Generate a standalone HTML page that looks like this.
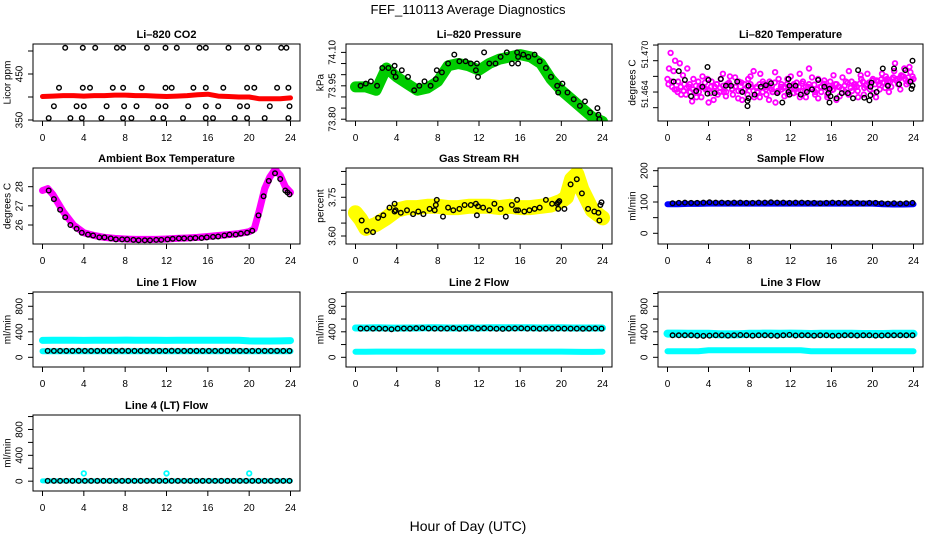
<!DOCTYPE html>
<html><head><meta charset="utf-8"><title>FEF_110113 Average Diagnostics</title>
<style>
html,body{margin:0;padding:0;background:#fff;}
svg{display:block;font-family:"Liberation Sans",Arial,sans-serif;}
</style></head>
<body>
<svg id="chart" width="936" height="540" viewBox="0 0 936 540" xmlns="http://www.w3.org/2000/svg">
<rect x="0" y="0" width="936" height="540" fill="#fff"/>
<text x="468" y="14" text-anchor="middle" font-size="13">FEF_110113  Average Diagnostics</text>
<text x="468" y="531" text-anchor="middle" font-size="14">Hour of Day (UTC)</text>
</svg>
<script>
// ---------- data ----------
const xTicks = [0,4,8,12,16,20,24];
const bandHours = [0,1,2,3,4,5,6,7,8,9,10,11,12,13,14,15,16,17,18,19,20,21,22,23,24];

// Li-820 CO2
const co2Band = [401,402,403,403,402,403,403,404,404,403,403,402,401,402,403,405,406,402,401,400,400,396,396,396,398];
const co2Hours = [2.2,3.9,5.1,7.2,7.8,10.1,11.9,13.0,15.2,15.8,18.0,19.8,20.9,23.1,23.6,
 1.6,3.9,4.6,6.8,7.8,9.6,11.9,12.5,14.6,15.8,17.5,19.8,20.5,22.7,23.8,
 1.1,3.3,4.0,6.2,7.9,9.1,11.2,11.9,14.1,15.8,17.0,19.1,19.8,22.0,23.9,
 0.6,2.7,3.8,5.7,7.8,8.6,10.7,11.7,13.6,15.8,16.5,18.6,19.8,21.5,23.8];
const co2Vals = [507,507,507,507,507,507,507,507,507,507,507,507,507,507,507,
 420,420,420,420,420,420,420,420,420,420,420,420,420,420,420,
 380,380,380,380,380,380,380,380,380,380,380,380,380,380,380,
 354,354,354,354,354,354,354,354,354,354,354,354,354,354,354];

// Li-820 Pressure
const presBand = [73.945,73.945,73.93,74.03,73.99,73.96,73.93,73.94,73.97,74.04,74.05,74.04,74.02,74.05,74.07,74.08,74.09,74.08,74.05,73.98,73.93,73.89,73.85,73.81,73.79];
const presHours = [0.5,1.0,1.5,2.1,2.6,3.2,3.7,3.8,3.9,4.5,5.1,5.7,6.2,6.7,7.3,7.8,7.9,8.4,9.0,9.6,10.1,10.7,11.2,11.7,11.8,11.9,12.5,13.0,13.6,14.1,14.7,15.2,15.7,15.8,15.8,16.3,16.8,17.4,17.9,18.5,19.0,19.6,19.7,20.1,20.6,21.2,21.8,22.3,22.8,23.5,23.6,23.7];
const presVals = [73.95,73.96,73.97,73.95,74.03,74.03,74.01,74.04,73.99,74.02,73.99,73.93,73.95,73.97,73.95,73.98,74.02,74.01,74.05,74.09,74.06,74.06,74.05,74.02,74.05,73.99,74.10,74.05,74.05,74.08,74.10,74.05,74.10,74.08,74.05,74.09,74.08,74.09,74.06,74.03,73.99,73.95,73.92,73.96,73.92,73.89,73.86,73.88,73.83,73.85,73.82,73.80];

// Li-820 Temperature (thousandths above 51.460)
const tempMagA = [6.5,11.5,8.0,4.5,9.5,7.2,3.5,5.0,2.2,4.0,6.0,3.0,4.8,6.5,3.8,2.5,5.5,4.0,7.5,3.2,5.8,4.5,6.8,2.8,4.2,5.5,3.5,7.0,8.0,5.0,3.0,6.0,4.5,2.5,5.2,7.8,4.0,5.5,3.2,6.5,4.8,3.8,5.8,7.5,4.2,3.0,5.5,6.8,4.0,2.8,5.0,6.2,3.5,4.8,7.2,5.5,3.2,4.5,6.0,8.0,4.2,5.5,3.0,6.5,4.8,7.5,5.2,3.8,6.2,4.5,5.8,7.0,4.0,6.5,9.5,5.5,7.2,8.5,6.0,7.8,6.5];
const tempMagB = [8.5,5.0,10.0,6.0,3.5,5.5,8.5,4.0,6.5,3.0,5.0,7.0,4.5,2.0,6.0,5.0,3.5,6.5,4.0,5.5,7.0,3.5,5.0,6.0,2.5,4.5,6.5,5.0,3.0,4.0,7.5,5.5,3.5,6.0,4.0,2.0,6.5,4.5,5.0,3.5,7.0,5.5,4.0,3.0,6.0,5.0,8.5,4.5,3.5,6.5,4.0,5.5,3.0,6.0,4.5,2.5,5.0,6.8,4.0,3.5,6.0,5.0,4.2,7.2,3.5,5.5,4.5,6.5,3.0,5.5,7.5,4.8,6.0,5.0,8.0,6.5,4.5,7.0,5.5,8.8,7.0];
const tempMagC = [5.5,6.0,4.5,4.0,5.0,4.2,4.8,5.5,4.5,5.2,4.0,5.0,5.8,4.5,5.0,4.2,5.5,4.8,5.2,4.0,5.5,4.6,5.0,4.2,5.8,4.5,5.0,5.5,4.2,4.8,5.5,4.0,5.0,5.2,4.5,5.8,4.2,5.0,4.8,5.5,4.4,5.2,4.6,5.0,5.6,4.2,5.0,4.8,5.4,4.5,5.0,5.6,4.8,5.2,4.4,5.5,5.0,4.6,5.2,5.8,4.8,5.4,5.0,5.6,6.0,5.2,5.8,6.2,5.5,6.0,6.4,5.8,6.5,6.0,6.8,6.2,6.6,7.0,6.4,6.8,6.2];
const tempHours = [0.6,1.1,1.7,2.3,2.8,3.4,3.9,3.9,4.0,4.6,5.2,5.7,6.2,6.8,7.3,7.8,7.8,7.9,7.9,8.5,9.1,9.6,10.1,10.7,11.2,11.8,11.8,11.9,11.9,12.5,13.0,13.6,14.1,14.7,15.3,15.7,15.8,15.8,15.9,16.5,17.0,17.6,18.1,18.6,19.2,19.7,19.8,19.8,19.9,20.4,21.0,21.5,22.1,22.6,23.2,23.7,23.8,23.9,23.9];
const tempVals = [6.0,8.0,6.3,3.2,4.2,5.0,3.7,8.8,6.3,3.8,6.5,5.2,5.2,6.0,4.0,1.3,2.3,2.8,5.2,3.5,5.0,5.3,5.7,3.8,2.0,4.0,6.5,5.2,3.5,5.2,3.5,4.0,4.5,6.3,5.0,3.8,4.6,2.0,3.2,2.8,3.8,3.8,2.8,8.2,2.9,2.4,3.4,5.0,5.8,4.0,8.5,5.2,8.5,5.5,8.2,6.0,4.6,10.0,5.2];

// Ambient Box Temperature
const ambHours = [0,0.5,1,2,3,4,5,6,7,8,9,10,11,12,13,14,15,16,17,18,19,20,20.5,21,21.5,22,22.5,23,23.5,24];
const ambBand = [27.8,27.9,27.6,26.7,26.0,25.6,25.45,25.35,25.3,25.27,25.25,25.25,25.25,25.27,25.3,25.32,25.35,25.4,25.45,25.5,25.55,25.65,25.8,26.8,27.9,28.5,28.9,28.6,28.0,27.7];
const ambPtHours = [0.6,1.1,1.7,2.2,2.7,3.3,3.8,4.4,4.9,5.5,6.0,6.6,7.1,7.7,8.2,8.8,9.3,9.9,10.4,11.0,11.5,12.1,12.6,13.2,13.7,14.3,14.8,15.4,15.9,16.5,17.0,17.6,18.1,18.7,19.2,19.8,20.3,20.9,21.4,21.9,22.5,23.0,23.5,23.7,23.9];
const ambPtVals = [27.8,27.35,26.8,26.4,26.0,25.8,25.6,25.5,25.45,25.35,25.35,25.3,25.25,25.25,25.25,25.22,25.2,25.2,25.2,25.22,25.22,25.25,25.28,25.3,25.3,25.3,25.32,25.32,25.35,25.38,25.4,25.45,25.5,25.5,25.55,25.6,25.7,26.5,27.5,28.3,28.7,28.4,27.8,27.7,27.6];

// Gas Stream RH
const rhHours = [0,0.5,1,2,3,4,5,6,7,8,9,10,11,12,13,14,15,16,17,18,19,20,20.5,21,21.5,22,23,24];
const rhBand = [3.69,3.665,3.63,3.645,3.67,3.70,3.71,3.71,3.715,3.715,3.71,3.71,3.715,3.715,3.715,3.71,3.715,3.71,3.71,3.715,3.72,3.735,3.75,3.82,3.84,3.78,3.70,3.67];
const rhPtHours = [0.6,1.1,1.7,2.2,2.7,3.3,3.8,3.8,3.9,4.4,5.0,5.6,6.1,6.6,7.2,7.7,7.8,7.9,8.5,9.0,9.5,10.1,10.6,11.2,11.7,11.8,11.9,12.4,13.0,13.5,14.1,14.6,15.2,15.6,15.7,15.8,16.4,16.9,17.4,17.9,18.5,19.1,19.6,19.7,19.7,19.8,20.3,20.9,21.5,22.0,22.6,23.2,23.6,23.7,23.8,23.9];
const rhPtVals = [3.66,3.62,3.615,3.67,3.68,3.71,3.695,3.725,3.70,3.69,3.70,3.685,3.695,3.685,3.705,3.70,3.72,3.74,3.675,3.71,3.70,3.705,3.72,3.72,3.725,3.68,3.715,3.71,3.70,3.725,3.705,3.675,3.72,3.70,3.74,3.70,3.695,3.70,3.705,3.71,3.74,3.725,3.725,3.73,3.705,3.735,3.705,3.80,3.82,3.765,3.705,3.695,3.69,3.66,3.72,3.73];

// Flows
const sampleBand = [93,93,94,94,95,95,95,95,95,95,95,95,95,95,95,95,95,95,95,95,95,93,92,92,93];
const samplePts = [96,97,98,97,97,98,99,98,98,97,98,98,97,97,98,98,99,98,98,97,98,98,97,97,96,97,98,97,98,98,97,96,97,97,96,95,96,95,96,97];
const l1Upper = [265,268,268,268,265,268,268,268,270,268,268,268,265,268,268,268,268,268,268,268,258,255,255,258,262];
const l1Lower = [95,95,95,95,95,95,95,95,95,95,95,95,95,95,95,95,95,95,95,95,95,95,95,95,95];
const l1Pts = [100,100,100,100,100,102,100,100,100,100,100,100,102,100,100,100,100,100,100,100,102,100,100,100,100,100,100,100,100,100,102,100,100,100,100,100,100,100,100,100];
const l2Upper = [460,460,462,460,458,460,460,462,465,460,460,462,460,462,465,465,465,462,460,462,462,460,460,460,460];
const l2Lower = [88,88,90,90,90,90,90,90,90,90,90,90,90,90,90,90,90,90,90,90,90,88,85,85,88];
const l2Pts = [450,452,450,450,448,440,450,452,450,455,458,452,450,450,452,455,448,452,458,450,455,452,448,445,450,452,455,450,452,448,450,450,452,450,450,450,448,450,452,450];
const l3Upper = [372,372,370,370,368,362,360,362,368,370,372,370,372,368,365,368,370,370,368,365,365,365,368,368,368];
const l3Lower = [95,95,95,95,110,112,112,112,112,112,112,112,112,110,95,95,95,95,95,95,95,95,95,95,95];
const l3Pts = [345,345,345,345,340,335,340,345,345,340,345,350,345,340,345,345,342,338,345,352,342,345,345,340,345,345,338,340,345,345,342,345,345,340,342,345,345,345,345,345];
const l4Band = [5,5,5,5,5,5,5,5,5,5,5,5,5,5,5,5,5,5,5,5,5,5,5,5,5];
const l4SpikeHours = [4,12,20];
const l4SpikeVals = [120,120,120];
const l4Pts = [5,5,5,5,5,5,5,5,5,5,5,5,5,5,5,5,5,5,5,5,5,5,5,5,5,5,5,5,5,5,5,5,5,5,5,5,5,5,5,5];

// ---------- drawing ----------
const NS = 'http://www.w3.org/2000/svg';
const svg = document.getElementById('chart');
const cols = [[33,300],[346,612],[658,923]];
const rows = [[44,121],[168,244],[292,367],[415,491]];

function el(tag, parent){ const e=document.createElementNS(NS,tag); parent.appendChild(e); return e; }

function makePanel(cfg){
  const [L,R]=cols[cfg.col], [T,B]=rows[cfg.row];
  const g=el('g',svg);
  
  
  const x0=L+9.5, x1=R-9.5;
  const sx=h=>x0+(h/24)*(x1-x0);
  const sy=v=>B-(v-cfg.ymin)/(cfg.ymax-cfg.ymin)*(B-T);
  const clip=el('clipPath',g); clip.setAttribute('id','clip-'+cfg.name);
  const cr=el('rect',clip); cr.setAttribute('x',L); cr.setAttribute('y',T); cr.setAttribute('width',R-L); cr.setAttribute('height',B-T);
  const plot=el('g',g); plot.setAttribute('clip-path','url(#clip-'+cfg.name+')');
  
  
  const t=el('text',g); t.setAttribute('x',(L+R)/2); t.setAttribute('y',T-6); t.setAttribute('text-anchor','middle'); t.setAttribute('font-size','11'); t.setAttribute('font-weight','bold'); t.textContent=cfg.title;
  
  
  xTicks.forEach(h=>{
    const ln=el('line',g); ln.setAttribute('x1',sx(h)); ln.setAttribute('x2',sx(h)); ln.setAttribute('y1',B); ln.setAttribute('y2',B+5); ln.setAttribute('stroke','#000');
    
    
    const tx=el('text',g); tx.setAttribute('x',sx(h)); tx.setAttribute('y',B+20); tx.setAttribute('text-anchor','middle'); tx.setAttribute('font-size','10'); tx.textContent=h;
    
    
  });
  cfg.yTicks.forEach(v=>{
    const y=sy(v);
    const ln=el('line',g); ln.setAttribute('x1',L-5); ln.setAttribute('x2',L); ln.setAttribute('y1',y); ln.setAttribute('y2',y); ln.setAttribute('stroke','#000');
    
    
  });
  cfg.yLabels.forEach((lab,i)=>{
    const y=sy(cfg.yLabelVals[i]), x=L-13;
    const tx=el('text',g); tx.setAttribute('x',x); tx.setAttribute('y',y); tx.setAttribute('text-anchor','middle'); tx.setAttribute('dominant-baseline','central'); tx.setAttribute('font-size',cfg.yfs||10); tx.setAttribute('transform','rotate(-90 '+x+' '+y+')'); tx.textContent=lab;
    
    
  });
  const ax=L-25, ay=(T+B)/2;
  const yt=el('text',g); yt.setAttribute('x',ax); yt.setAttribute('y',ay); yt.setAttribute('text-anchor','middle'); yt.setAttribute('dominant-baseline','central'); yt.setAttribute('font-size','10'); yt.setAttribute('transform','rotate(-90 '+ax+' '+ay+')'); yt.textContent=cfg.ylab;
  
  
  (cfg.bands||[]).forEach(b=>{
    const p=el('polyline',plot);
    p.setAttribute('points', b.vals.map((v,i)=>sx(b.hours[i]).toFixed(1)+','+sy(v).toFixed(1)).join(' '));
    p.setAttribute('fill','none'); p.setAttribute('stroke',b.color); p.setAttribute('stroke-width',b.w); p.setAttribute('stroke-linejoin','round'); p.setAttribute('stroke-linecap','round');
    
    
  });
  (cfg.points||[]).forEach(s=>{
    const n=s.vals.length;
    s.vals.forEach((v,i)=>{
      const h = s.hours ? s.hours[i] : s.h0 + i*(s.h1-s.h0)/(n-1);
      const c=el('circle',plot); c.setAttribute('cx',sx(h).toFixed(1)); c.setAttribute('cy',sy(v).toFixed(1)); c.setAttribute('r',s.r||2.3);
      c.setAttribute('fill','none'); c.setAttribute('stroke',s.color); c.setAttribute('stroke-width',s.sw||1.4);
      
      
    });
  });
  const box=el('rect',g); box.setAttribute('x',L); box.setAttribute('y',T); box.setAttribute('width',R-L); box.setAttribute('height',B-T); box.setAttribute('fill','none'); box.setAttribute('stroke','#000');
  
  
}

const tempA = tempMagA.map(v=>51.460+v/1000);
const tempB = tempMagB.map(v=>51.460+v/1000);
const tempC = tempMagC.map(v=>51.460+v/1000);
const tempP = tempVals.map(v=>51.460+v/1000);
const flowTicks=[0,200,400,600,800,1000], flowLab=['0','400','800'], flowLabV=[0,400,800];

makePanel({name:'co2-panel',col:0,row:0,title:'Li\u2013820 CO2',ylab:'Licor ppm',ymin:347.8,ymax:515.2,yTicks:[350,400,450,500],yLabels:['350','450'],yLabelVals:[350,450],
  bands:[{name:'co2-band',hours:bandHours,vals:co2Band,color:'#ff0000',w:5}],
  points:[{name:'co2-point',hours:co2Hours,vals:co2Vals,color:'#000'}]});
makePanel({name:'pressure-panel',col:1,row:0,title:'Li\u2013820 Pressure',ylab:'kPa',ymin:73.792,ymax:74.1377,yTicks:[73.80,73.85,73.90,73.95,74.00,74.05,74.10],yLabels:['73.80','73.95','74.10'],yLabelVals:[73.80,73.95,74.10],
  bands:[{name:'pressure-band',hours:bandHours,vals:presBand,color:'#00cd00',w:11}],
  points:[{name:'pressure-point',hours:presHours,vals:presVals,color:'#000'}]});
makePanel({name:'temperature-panel',col:2,row:0,title:'Li\u2013820 Temperature',ylab:'degrees C',yfs:9,ymin:51.45845,ymax:51.4732,yTicks:[51.461,51.464,51.467,51.470,51.473],yLabels:['51.464','51.470'],yLabelVals:[51.4636,51.4712],
  points:[{name:'temperature-raw-point',h0:0.1,h1:23.8,vals:tempC,color:'#ff00ff',sw:1.8},{name:'temperature-raw-point',h0:0,h1:24,vals:tempA,color:'#ff00ff',sw:1.8},{name:'temperature-raw-point',h0:0.15,h1:23.9,vals:tempB,color:'#ff00ff',sw:1.8},{name:'temperature-point',hours:tempHours,vals:tempP,color:'#000'}]});
makePanel({name:'ambient-panel',col:0,row:1,title:'Ambient Box Temperature',ylab:'degrees C',ymin:25.008,ymax:28.976,yTicks:[26,27,28],yLabels:['26','27','28'],yLabelVals:[26,27,28],
  bands:[{name:'ambient-band',hours:ambHours,vals:ambBand,color:'#ff00ff',w:7}],
  points:[{name:'ambient-point',hours:ambPtHours,vals:ambPtVals,color:'#000'}]});
makePanel({name:'rh-panel',col:1,row:1,title:'Gas Stream RH',ylab:'percent',ymin:3.569,ymax:3.8634,yTicks:[3.60,3.65,3.70,3.75,3.80,3.85],yLabels:['3.60','3.75'],yLabelVals:[3.60,3.75],
  bands:[{name:'rh-band',hours:rhHours,vals:rhBand,color:'#ffff00',w:15}],
  points:[{name:'rh-point',hours:rhPtHours,vals:rhPtVals,color:'#000'}]});
makePanel({name:'sample-flow-panel',col:2,row:1,title:'Sample Flow',ylab:'ml/min',ymin:-34.2,ymax:208.6,yTicks:[0,50,100,150,200],yLabels:['0','100','200'],yLabelVals:[0,100,200],
  bands:[{name:'sample-flow-band',hours:bandHours,vals:sampleBand,color:'#0000ff',w:6}],
  points:[{name:'sample-flow-point',h0:0.5,h1:23.9,vals:samplePts,color:'#000'}]});
makePanel({name:'line1-panel',col:0,row:2,title:'Line 1 Flow',ylab:'ml/min',ymin:-152,ymax:1024,yTicks:flowTicks,yLabels:flowLab,yLabelVals:flowLabV,
  bands:[{name:'line1-upper-band',hours:bandHours,vals:l1Upper,color:'#00ffff',w:7},{name:'line1-lower-band',hours:bandHours,vals:l1Lower,color:'#00ffff',w:6}],
  points:[{name:'line1-point',h0:0.5,h1:23.9,vals:l1Pts,color:'#000'}]});
makePanel({name:'line2-panel',col:1,row:2,title:'Line 2 Flow',ylab:'ml/min',ymin:-152,ymax:1024,yTicks:flowTicks,yLabels:flowLab,yLabelVals:flowLabV,
  bands:[{name:'line2-upper-band',hours:bandHours,vals:l2Upper,color:'#00ffff',w:7},{name:'line2-lower-band',hours:bandHours,vals:l2Lower,color:'#00ffff',w:6}],
  points:[{name:'line2-point',h0:0.5,h1:23.9,vals:l2Pts,color:'#000'}]});
makePanel({name:'line3-panel',col:2,row:2,title:'Line 3 Flow',ylab:'ml/min',ymin:-152,ymax:1024,yTicks:flowTicks,yLabels:flowLab,yLabelVals:flowLabV,
  bands:[{name:'line3-upper-band',hours:bandHours,vals:l3Upper,color:'#00ffff',w:8},{name:'line3-lower-band',hours:bandHours,vals:l3Lower,color:'#00ffff',w:6}],
  points:[{name:'line3-point',h0:0.5,h1:23.9,vals:l3Pts,color:'#000'}]});
makePanel({name:'line4-panel',col:0,row:3,title:'Line 4 (LT) Flow',ylab:'ml/min',ymin:-152,ymax:1024,yTicks:flowTicks,yLabels:flowLab,yLabelVals:flowLabV,
  bands:[{name:'line4-band',hours:bandHours,vals:l4Band,color:'#00ffff',w:5}],
  points:[{name:'line4-spike',hours:l4SpikeHours,vals:l4SpikeVals,color:'#00ffff',sw:1.8},{name:'line4-point',h0:0.5,h1:23.9,vals:l4Pts,color:'#000'}]});
</script>
</body></html>
